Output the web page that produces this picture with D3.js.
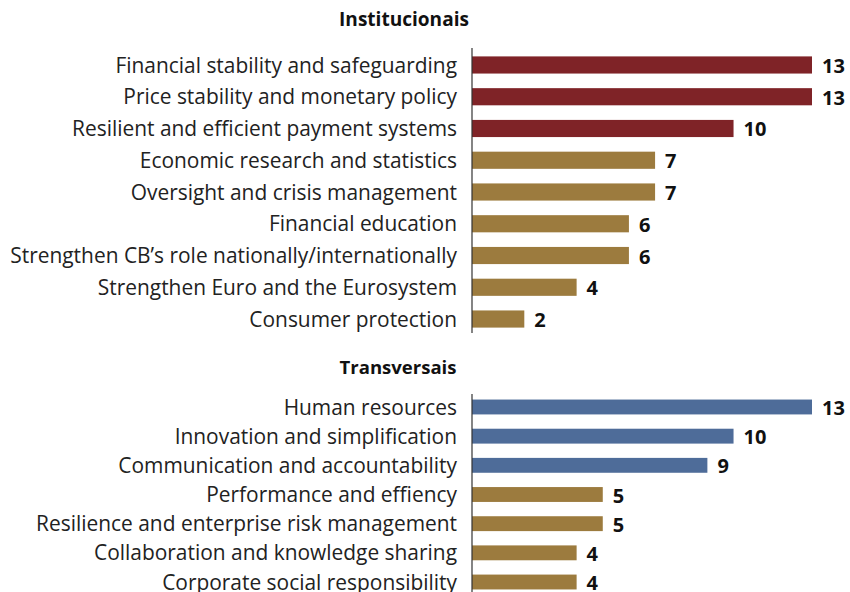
<!DOCTYPE html>
<html><head><meta charset="utf-8">
<script src="https://cdn.jsdelivr.net/npm/d3@7"></script>
<style>body{margin:0;background:#fff}</style>
</head><body>
<svg id="c" width="850" height="592"></svg>
<script>
const instCategories = ["Financial stability and safeguarding","Price stability and monetary policy","Resilient and efficient payment systems ","Economic research and statistics","Oversight and crisis management","Financial education","Strengthen CB\u2019s role nationally/internationally","Strengthen Euro and the Eurosystem","Consumer protection"];
const instValues = [13,13,10,7,7,6,6,4,2];
const instHighlight = [true,true,true,false,false,false,false,false,false];
const transCategories = ["Human resources","Innovation and simplification","Communication and accountability","Performance and effiency ","Resilience and enterprise risk management","Collaboration and knowledge sharing","Corporate social responsibility"];
const transValues = [13,10,9,5,5,4,4];
const transHighlight = [true,true,true,false,false,false,false];
const panelTitles = ["Institucionais","Transversais"];

const svg = d3.select("#c");
const font = "'Open Sans', sans-serif";
const x = d3.scaleLinear().domain([0,13]).range([472,812]);

// size fonts so texts span the same widths as in the reference
function fit(txt, weight, w){
  const p = svg.append("text").attr("font-family",font).attr("font-weight",weight).attr("font-size",20).text(txt);
  const s = 20 * w / p.node().getComputedTextLength();
  p.remove();
  return s;
}
const labelSize = fit("Strengthen CB\u2019s role nationally/internationally","normal",447);
const titleSize1 = fit(panelTitles[0],"bold",130);
const titleSize2 = fit(panelTitles[1],"bold",117);

function panel(cats, vals, hi, title, tSize, y0, y1, pad, color, titleX, titleY, axisTop, axisBottom){
  const data = cats.map((c,i)=>({c, v:vals[i], h:hi[i]}));
  const y = d3.scaleBand().domain(cats).range([y0,y1]).paddingInner(pad).paddingOuter(pad/2);
  const g = svg.append("g");
  g.selectAll("rect").data(data).join("rect")
    .attr("x", x(0)).attr("y", d=>y(d.c)).attr("width", d=>x(d.v)-x(0)).attr("height", y.bandwidth())
    .attr("fill", d=>d.h?color:"#9C7B3E");
  g.selectAll("text.v").data(data).join("text").attr("class","v")
    .attr("x", d=>x(d.v)+10).attr("y", d=>y(d.c)+y.bandwidth()/2).attr("dy","0.4em")
    .attr("font-family",font).attr("font-weight","bold").attr("font-size",20).attr("fill","#111")
    .text(d=>d.v);
  g.selectAll("text.l").data(data).join("text").attr("class","l")
    .attr("x", 457).attr("y", d=>y(d.c)+y.bandwidth()/2).attr("dy","0.36em")
    .attr("text-anchor","end").attr("font-family",font).attr("font-size",labelSize).attr("fill","#222")
    .text(d=>d.c.trim());
  g.append("line").attr("x1",472).attr("x2",472).attr("y1",axisTop).attr("y2",axisBottom)
    .attr("stroke","#333").attr("stroke-width",1.2);
  g.append("text").attr("x",titleX).attr("y",titleY).attr("text-anchor","middle")
    .attr("font-family",font).attr("font-weight","bold").attr("font-size",tSize).attr("fill","#111").text(title);
}
panel(instCategories, instValues, instHighlight, panelTitles[0], titleSize1, 49.1, 334.9, 0.46, "#7F2327", 404, 26, 48, 333);
panel(transCategories, transValues, transHighlight, panelTitles[1], titleSize2, 392.4, 596.6, 0.49, "#4E6C99", 398, 374, 394, 592);
</script>
</body></html>
